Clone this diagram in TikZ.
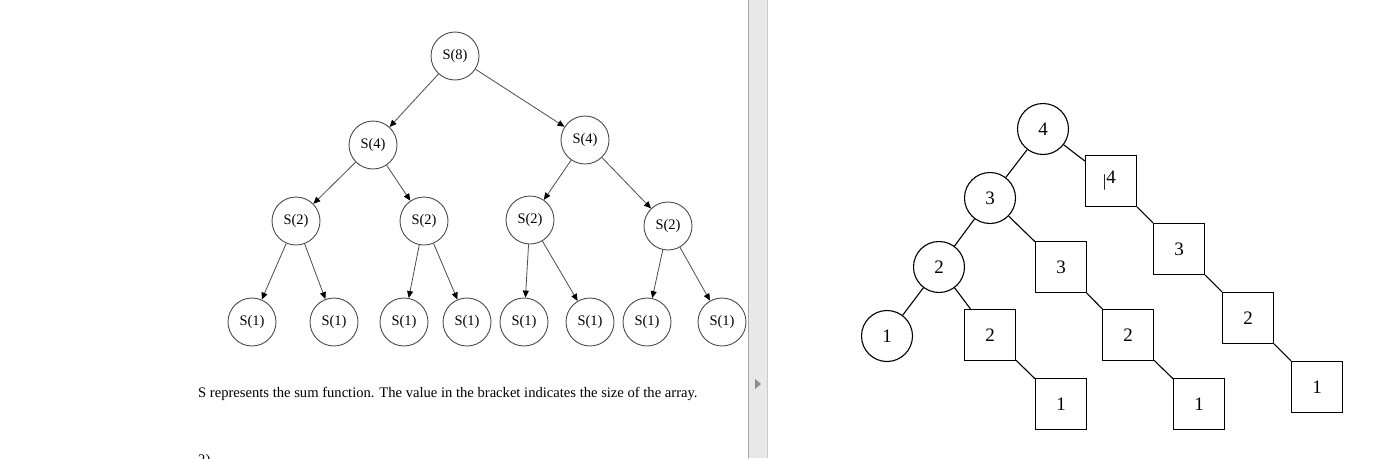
\documentclass[tikz,border=0pt]{standalone}
\usepackage{fontspec}
\setmainfont{Liberation Serif}
\usetikzlibrary{arrows.meta}
\begin{document}
\begin{tikzpicture}[x=1pt,y=-1pt,
 sc/.style={circle,draw=black!70,line width=0.9pt,minimum size=48pt,inner sep=0pt,font=\fontsize{14.5}{14.5}\selectfont},
 ar/.style={draw=black!70,line width=0.8pt,-{Triangle[length=7pt,width=6pt,black]}},
 rc/.style={circle,draw,line width=1.1pt,minimum size=51pt,inner sep=0pt,font=\fontsize{19}{19}\selectfont},
 rs/.style={rectangle,draw,line width=1.1pt,minimum size=51pt,inner sep=0pt,font=\fontsize{19}{19}\selectfont},
 ln/.style={draw,line width=1.1pt}]
\useasboundingbox (0,0) rectangle (1391,458);
\fill[white] (0,0) rectangle (1391,458);
% divider
\fill[black!9] (748,0) rectangle (768,458);
\draw[black!35] (748.5,0) -- (748.5,458);
\draw[black!20] (767.5,0) -- (767.5,458);
\fill[black!45] (755,379) -- (761,384) -- (755,389) -- cycle;
% left tree
\node[sc] (a) at (455,56) {S(8)};
\node[sc] (b1) at (373,145) {S(4)};
\node[sc] (b2) at (585,140) {S(4)};
\node[sc] (c1) at (296,221) {S(2)};
\node[sc] (c2) at (424,221) {S(2)};
\node[sc] (c3) at (530,220) {S(2)};
\node[sc] (c4) at (668,226) {S(2)};
\foreach \i/\x in {1/252,2/334,3/404,4/467,5/524,6/590,7/647,8/722}
  \node[sc] (d\i) at (\x,322) {S(1)};
\draw[ar] (a) -- (b1); \draw[ar] (a) -- (b2);
\draw[ar] (b1) -- (c1); \draw[ar] (b1) -- (c2);
\draw[ar] (b2) -- (c3); \draw[ar] (b2) -- (c4);
\draw[ar] (c1) -- (d1); \draw[ar] (c1) -- (d2);
\draw[ar] (c2) -- (d3); \draw[ar] (c2) -- (d4);
\draw[ar] (c3) -- (d5); \draw[ar] (c3) -- (d6);
\draw[ar] (c4) -- (d7); \draw[ar] (c4) -- (d8);
\node[anchor=west,inner sep=0pt,font=\fontsize{14.6}{15}\selectfont] (cap) at (198,394) {S represents the sum function. The value in the bracket indicates the size of the array.};
\node[anchor=west,inner sep=0pt,font=\fontsize{14.6}{15}\selectfont] (two) at (198,461) {2)};
% right tree
\node[rc] (r4) at (1043,129) {4};
\node[rc] (r3) at (990,198) {3};
\node[rc] (r2) at (939,267) {2};
\node[rc] (r1) at (887,336) {1};
\node[rs] (q4) at (1111,181) {\makebox[0pt][r]{\raisebox{-3pt}{\fontsize{17}{17}\selectfont|}}4};
\node[rs] (q3a) at (1061,267) {3};
\node[rs] (q3b) at (1179,249) {3};
\node[rs] (q2a) at (990,335) {2};
\node[rs] (q2b) at (1128,335) {2};
\node[rs] (q2c) at (1248,318) {2};
\node[rs] (q1a) at (1061,404) {1};
\node[rs] (q1b) at (1199,404) {1};
\node[rs] (q1c) at (1317,387) {1};
\draw[ln] (r4) -- (r3); \draw[ln] (r4) -- (q4);
\draw[ln] (r3) -- (r2); \draw[ln] (r3) -- (q3a);
\draw[ln] (r2) -- (r1); \draw[ln] (r2) -- (q2a);
\draw[ln] (q2a) -- (q1a);
\draw[ln] (q3a) -- (q2b); \draw[ln] (q2b) -- (q1b);
\draw[ln] (q4) -- (q3b); \draw[ln] (q3b) -- (q2c); \draw[ln] (q2c) -- (q1c);
\end{tikzpicture}
\end{document}
